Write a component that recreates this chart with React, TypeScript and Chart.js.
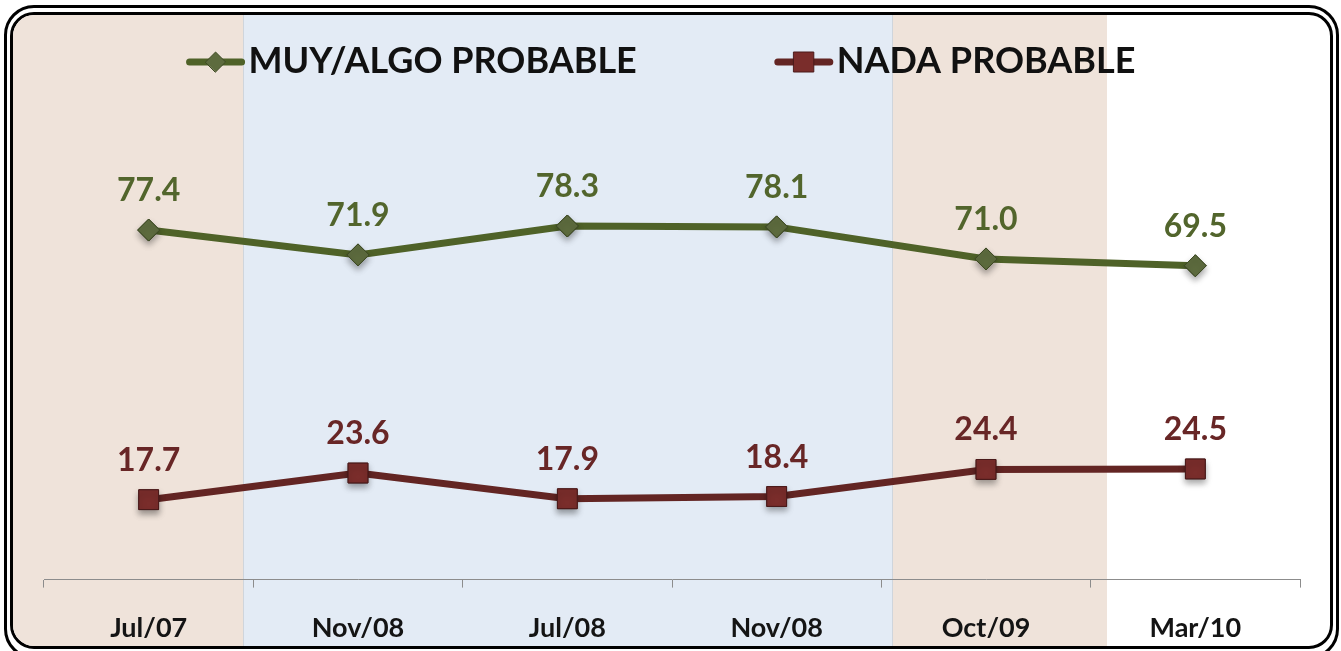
import React, { useEffect, useRef } from "react";
import { Chart, registerables } from "chart.js";

Chart.register(...registerables);

const categories = ["Jul/07", "Nov/08", "Jul/08", "Nov/08", "Oct/09", "Mar/10"];
const muyAlgoProbable = [77.4, 71.9, 78.3, 78.1, 71.0, 69.5];
const nadaProbable = [17.7, 23.6, 17.9, 18.4, 24.4, 24.5];
const seriesNames = ["MUY/ALGO PROBABLE", "NADA PROBABLE"];

const GREEN = "#4f6228";
const RED = "#632523";
const BEIGE = "#efe3da";
const BLUE = "#e3ebf5";
const FONT = "Lato, 'Open Sans', sans-serif";

const bandsPlugin = {
  id: "bands",
  beforeDraw(chart: any) {
    const ctx = chart.ctx;
    const h = chart.height;
    ctx.save();
    ctx.fillStyle = BEIGE;
    ctx.fillRect(0, 0, 230, h);
    ctx.fillStyle = BLUE;
    ctx.fillRect(230, 0, 649, h);
    ctx.fillStyle = BEIGE;
    ctx.fillRect(879, 0, 215, h);
    ctx.fillStyle = "#cfd5dc";
    ctx.fillRect(230, 0, 1, h);
    ctx.fillRect(879, 0, 1, h);
    ctx.restore();
  },
};

const legendPlugin = {
  id: "customLegend",
  afterDraw(chart: any) {
    const ctx = chart.ctx;
    const ds = chart.data.datasets;
    ctx.save();
    ctx.font = `bold 36px ${FONT}`;
    const lineW = 58;
    const gapText = 4;
    const gapItems = 138;
    const widths = ds.map((d: any) => lineW + gapText + ctx.measureText(d.label).width);
    const total = widths.reduce((a: number, b: number) => a + b, 0) + gapItems * (ds.length - 1);
    let x = 648 - total / 2;
    const y = 47;
    ds.forEach((d: any, i: number) => {
      ctx.strokeStyle = d.borderColor;
      ctx.lineWidth = 7;
      ctx.lineCap = "round";
      ctx.beginPath();
      ctx.moveTo(x + 3, y);
      ctx.lineTo(x + lineW - 3, y);
      ctx.stroke();
      ctx.lineWidth = 1;
      ctx.fillStyle = d.pointBackgroundColor;
      ctx.strokeStyle = d.pointBorderColor;
      const cx = x + lineW / 2;
      ctx.beginPath();
      if (d.pointStyle === "rectRot") {
        const r = 10;
        ctx.moveTo(cx - r, y);
        ctx.lineTo(cx, y - r);
        ctx.lineTo(cx + r, y);
        ctx.lineTo(cx, y + r);
        ctx.closePath();
      } else {
        ctx.rect(cx - 10, y - 10, 20, 20);
      }
      ctx.fill();
      ctx.stroke();
      ctx.fillStyle = "#111111";
      ctx.textBaseline = "alphabetic";
      ctx.textAlign = "left";
      ctx.fillText(d.label, x + lineW + gapText, 58);
      x += widths[i] + gapItems;
    });
    ctx.restore();
  },
};

const pointShadowPlugin = {
  id: "pointShadow",
  afterDatasetsDraw(chart: any) {
    const ctx = chart.ctx;
    chart.data.datasets.forEach((_d: any, i: number) => {
      const meta = chart.getDatasetMeta(i);
      meta.data.forEach((pt: any) => {
        ctx.save();
        ctx.shadowColor = "rgba(0,0,0,0.35)";
        ctx.shadowBlur = 6;
        ctx.shadowOffsetY = 4;
        pt.draw(ctx, chart.chartArea);
        ctx.restore();
      });
    });
  },
};

const valueLabelsPlugin = {
  id: "valueLabels",
  afterDatasetsDraw(chart: any) {
    const ctx = chart.ctx;
    ctx.save();
    ctx.font = `bold 32px ${FONT}`;
    ctx.textAlign = "center";
    ctx.textBaseline = "alphabetic";
    chart.data.datasets.forEach((d: any, i: number) => {
      const meta = chart.getDatasetMeta(i);
      ctx.fillStyle = d.labelColor;
      meta.data.forEach((pt: any, j: number) => {
        ctx.fillText(Number(d.data[j]).toFixed(1), pt.x, pt.y - 29);
      });
    });
    ctx.restore();
  },
};

export default function App() {
  const canvasRef = useRef<HTMLCanvasElement | null>(null);

  useEffect(() => {
    document.body.style.margin = "0";
    const canvas = canvasRef.current;
    if (!canvas) return;
    const chart = new Chart(canvas, {
      type: "line",
      data: {
        labels: categories,
        datasets: [
          {
            label: seriesNames[0],
            data: muyAlgoProbable,
            borderColor: GREEN,
            borderWidth: 7,
            pointStyle: "rectRot",
            pointRadius: 11,
            pointBackgroundColor: "#5d6b3e",
            pointBorderColor: "#3e4a24",
            pointBorderWidth: 1,
            tension: 0,
            labelColor: "#52652c",
          } as any,
          {
            label: seriesNames[1],
            data: nadaProbable,
            borderColor: RED,
            borderWidth: 7,
            pointStyle: "rect",
            pointRadius: 14,
            pointBackgroundColor: "#7a2d2b",
            pointBorderColor: "#4a1a1a",
            pointBorderWidth: 1,
            tension: 0,
            labelColor: "#682626",
          } as any,
        ],
      },
      options: {
        animation: false,
        responsive: false,
        devicePixelRatio: 1,
        layout: { padding: { left: 31, right: 30, top: 113, bottom: -22 } },
        plugins: {
          legend: { display: false },
          tooltip: { enabled: false },
        },
        scales: {
          x: {
            offset: true,
            grid: {
              offset: true,
              drawOnChartArea: false,
              drawTicks: true,
              tickLength: 8,
              color: "#8c8c8c",
            },
            border: { display: true, color: "#8c8c8c", width: 1 },
            ticks: {
              color: "#141414",
              font: { family: FONT, size: 27, weight: "bold" },
              padding: 24,
              maxRotation: 0,
              autoSkip: false,
            },
          },
          y: {
            display: false,
            min: 0,
            max: 100,
          },
        },
      },
      plugins: [bandsPlugin, pointShadowPlugin, legendPlugin, valueLabelsPlugin],
    });
    return () => chart.destroy();
  }, []);

  return (
    <div style={{ position: "relative", width: 1341, height: 651, overflow: "hidden", background: "#ffffff" }}>
      <div
        style={{
          position: "absolute",
          left: 4,
          top: 5,
          width: 1329,
          height: 648,
          border: "3px solid #000",
          borderRadius: 30,
        }}
      />
      <div
        style={{
          position: "absolute",
          left: 10,
          top: 12,
          width: 1317,
          height: 631,
          border: "3px solid #000",
          borderRadius: 24,
          overflow: "hidden",
        }}
      >
        <canvas ref={canvasRef} width={1317} height={631} style={{ display: "block", width: 1317, height: 631 }} />
      </div>
    </div>
  );
}
